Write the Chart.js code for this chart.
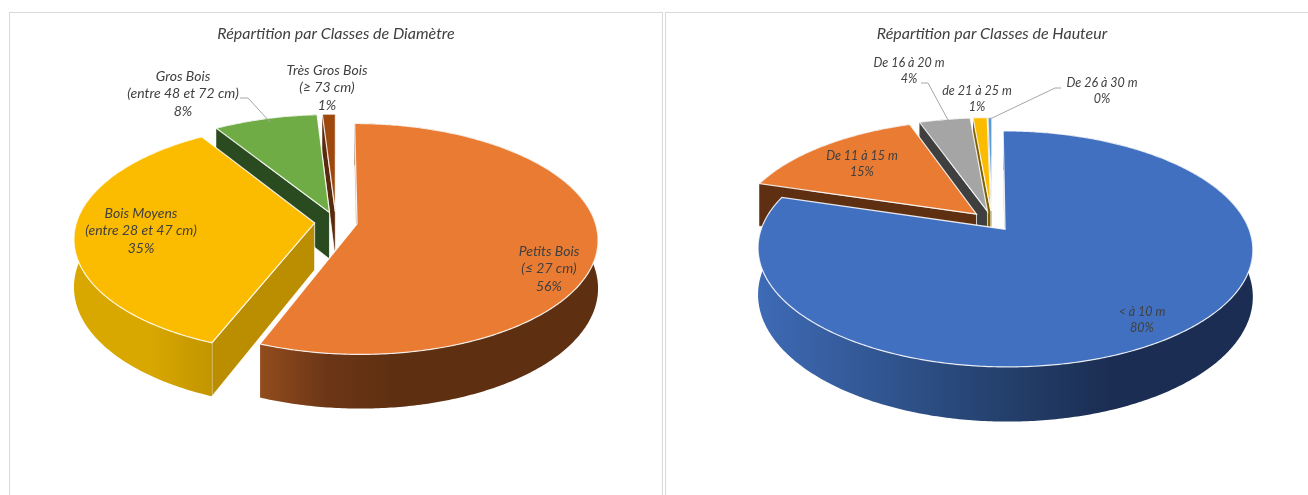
<!DOCTYPE html>
<html>
<head>
<meta charset="utf-8">
<script src="https://cdn.jsdelivr.net/npm/chart.js@4"></script>
<style>
    html, body { margin: 0; padding: 0; background: #fff; overflow: hidden; }
    .panel { position: absolute; top: 12px; height: 490px; border: 1px solid #d9d9d9; box-sizing: border-box; background: #fff; }
    canvas { display: block; }
</style>
</head>
<body>
<div class="panel" style="left: 9px; width: 654px;"><canvas id="chartDiametre" width="652" height="488"></canvas></div>
<div class="panel" style="left: 665px; width: 654px;"><canvas id="chartHauteur" width="652" height="488"></canvas></div>
<script>
const diametreNames = ["Petits Bois", "Bois Moyens", "Gros Bois", "Très Gros Bois"];
const diametreRanges = ["(≤ 27 cm)", "(entre 28 et 47 cm)", "(entre 48 et 72 cm)", "(≥ 73 cm)"];
const diametreValues = [56, 35, 8, 1];

const hauteurNames = ["< à 10 m", "De 11 à 15 m", "De 16 à 20 m", "de 21 à 25 m", "De 26 à 30 m"];
const hauteurValues = [79.7, 14.9, 4.0, 1.1, 0.3];

const diametreTop = ["#e97b32", "#fbbc00", "#6fac46", "#9e480e"];
const diametreWall = ["#5e3011", "#ba8e00", "#2a4a1f", "#5a2a0c"];
const diametreRim = [
    [[0.28, "#a3561f"], [0.48, "#6c3616"], [0.62, "#5e3011"]],
    [[0.10, "#d9a800"], [0.30, "#b98d00"]],
    [[0, "#2a4a1f"]],
    [[0, "#5a2a0c"]]
];

const hauteurTop = ["#4270c0", "#e97b32", "#a5a5a5", "#fbbc00", "#5b9bd5"];
const hauteurWall = ["#1b2d52", "#5e3011", "#3f3f3f", "#7f6000", "#2e4d6b"];
const hauteurRim = [
    [[0.0, "#3f6cb8"], [0.5, "#25426f"], [0.75, "#1b2d52"]],
    [[0, "#5e3011"]],
    [[0, "#3f3f3f"]],
    [[0, "#7f6000"]],
    [[0, "#2e4d6b"]]
];

// label anchors in canvas pixels, one per slice
const diametreLabelPos = [[539, 238], [131, 200], [173, 63], [317, 57]];
const hauteurLabelPos = [[476, 299], [196, 143], [243, 50], [311, 78], [436, 70]];

const diametreLeaders = [null, null, [[230, 85], [238, 85], [260, 109]], null];
const hauteurLeaders = [null, null, [[255, 70], [262, 70], [282, 107]], null, [[395, 75], [389, 75], [324, 106]]];

// draws the exploded pie in perspective from the chart's own arc angles
const pie3d = {
    id: "pie3d",
    beforeDatasetsDraw(chart, args, opts) {
        const ctx = chart.ctx;
        const arcs = chart.getDatasetMeta(0).data;
        const project = (x, y, z) => {
            const w = 1 - opts.persp * y;
            return [opts.cx + opts.rx * x / w, opts.cy + (opts.ry * y + opts.depth * z) / w];
        };
        const order = arcs.map((a, i) => i).sort((a, b) => {
            return Math.sin((arcs[a].startAngle + arcs[a].endAngle) / 2) - Math.sin((arcs[b].startAngle + arcs[b].endAngle) / 2);
        });

        const pathOf = (points) => {
            ctx.beginPath();
            points.forEach((p, i) => i ? ctx.lineTo(p[0], p[1]) : ctx.moveTo(p[0], p[1]));
            ctx.closePath();
        };

        order.forEach(i => {
            const start = arcs[i].startAngle;
            const end = arcs[i].endAngle;
            const mid = (start + end) / 2;
            const ox = Math.cos(mid) * opts.explode;
            const oy = Math.sin(mid) * opts.explode;

            const rimTop = [];
            const rimBottom = [];
            const steps = Math.max(2, Math.ceil((end - start) * 90));
            for (let s = 0; s <= steps; s++) {
                const a = start + (end - start) * s / steps;
                rimTop.push(project(ox + Math.cos(a), oy + Math.sin(a), 0));
                rimBottom.push(project(ox + Math.cos(a), oy + Math.sin(a), 1));
            }
            const apexTop = project(ox, oy, 0);
            const apexBottom = project(ox, oy, 1);

            // radial cut faces, only the ones turned towards the viewer
            ctx.fillStyle = opts.wall[i];
            ctx.strokeStyle = "rgba(255,255,255,0.75)";
            ctx.lineWidth = 1;
            if (rimTop[0][0] < apexTop[0] - 1) {
                pathOf([apexTop, rimTop[0], rimBottom[0], apexBottom]);
                ctx.fill();
                ctx.stroke();
            }
            if (rimTop[steps][0] > apexTop[0] + 1) {
                pathOf([apexTop, rimTop[steps], rimBottom[steps], apexBottom]);
                ctx.fill();
                ctx.stroke();
            }

            // outer wall with its left to right shading
            const grad = ctx.createLinearGradient(opts.cx - opts.rx, 0, opts.cx + opts.rx, 0);
            opts.rim[i].forEach(stop => grad.addColorStop(stop[0], stop[1]));
            pathOf(rimTop.concat(rimBottom.slice().reverse()));
            ctx.fillStyle = grad;
            ctx.fill();

            // top face
            pathOf([apexTop].concat(rimTop));
            ctx.fillStyle = opts.top[i];
            ctx.fill();
            ctx.strokeStyle = "rgba(255,255,255,0.85)";
            ctx.lineWidth = 1.2;
            ctx.stroke();
        });

        return false;
    },
    afterDraw(chart, args, opts) {
        const ctx = chart.ctx;
        const values = chart.data.datasets[0].data;
        ctx.save();
        ctx.strokeStyle = "#a6a6a6";
        ctx.lineWidth = 1;
        opts.leaders.forEach(line => {
            if (!line) return;
            ctx.beginPath();
            line.forEach((p, i) => i ? ctx.lineTo(p[0], p[1]) : ctx.moveTo(p[0], p[1]));
            ctx.stroke();
        });
        ctx.font = "italic " + opts.fontSize + "px Lato";
        ctx.textAlign = "center";
        ctx.textBaseline = "middle";
        ctx.fillStyle = "#404040";
        chart.data.labels.forEach((name, i) => {
            const lines = [name];
            if (opts.ranges) lines.push(opts.ranges[i]);
            lines.push(Math.round(values[i]) + "%");
            lines.forEach((text, l) => {
                ctx.fillText(text, opts.labelPos[i][0], opts.labelPos[i][1] + l * opts.lineHeight);
            });
        });
        ctx.restore();
    }
};

function makePie(id, title, names, values, pieOptions) {
    new Chart(document.getElementById(id), {
        type: "pie",
        data: {
            labels: names,
            datasets: [{ data: values, backgroundColor: pieOptions.top }]
        },
        options: {
            responsive: false,
            animation: false,
            plugins: {
                legend: { display: false },
                tooltip: { enabled: false },
                title: {
                    display: true,
                    text: title,
                    color: "#404040",
                    font: { family: "Lato", size: 16, style: "italic", weight: "normal" },
                    padding: { top: 11, bottom: 10 }
                },
                pie3d: pieOptions
            }
        },
        plugins: [pie3d]
    });
}

makePie("chartDiametre", "Répartition par Classes de Diamètre", diametreNames, diametreValues, {
    cx: 326, cy: 209, rx: 238, ry: 113, persp: 0.13, depth: 47, explode: 0.09,
    top: diametreTop, wall: diametreWall, rim: diametreRim,
    labelPos: diametreLabelPos, leaders: diametreLeaders, ranges: diametreRanges,
    fontSize: 14, lineHeight: 17.5
});

makePie("chartHauteur", "Répartition par Classes de Hauteur", hauteurNames, hauteurValues, {
    cx: 326, cy: 208, rx: 241, ry: 112, persp: 0.165, depth: 45, explode: 0.09,
    top: hauteurTop, wall: hauteurWall, rim: hauteurRim,
    labelPos: hauteurLabelPos, leaders: hauteurLeaders, ranges: null,
    fontSize: 12.5, lineHeight: 16
});
</script>
</body>
</html>
